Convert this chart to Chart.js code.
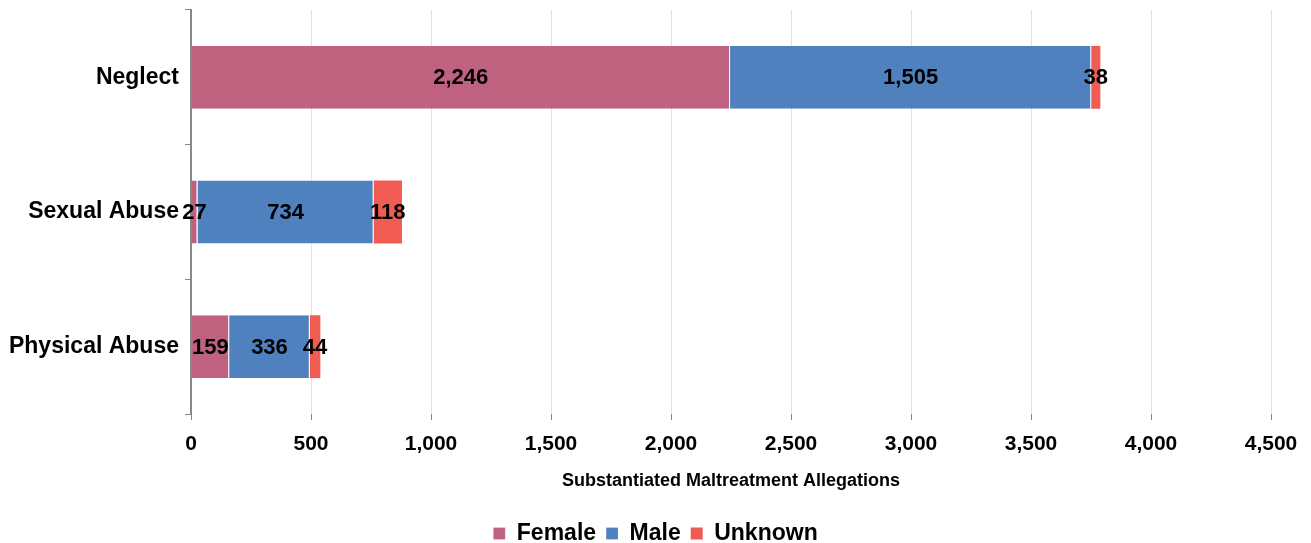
<!DOCTYPE html>
<html>
<head>
<meta charset="utf-8">
<script src="https://cdn.jsdelivr.net/npm/chart.js@4/dist/chart.umd.min.js"></script>
<style>
  html, body { margin: 0; padding: 0; background: #ffffff; }
  #wrap { width: 1311px; height: 543px; }
</style>
</head>
<body>
<div id="wrap"><canvas id="c" width="1311" height="543"></canvas></div>
<script>
const categories = ["Neglect", "Sexual Abuse", "Physical Abuse"];
const femaleValues = [2246, 27, 159];
const maleValues = [1505, 734, 336];
const unknownValues = [38, 118, 44];
const xTickValues = [0, 500, 1000, 1500, 2000, 2500, 3000, 3500, 4000, 4500];
const xAxisTitle = "Substantiated Maltreatment Allegations";

const FONT = "'Liberation Sans', Arial, sans-serif";

const valueLabels = {
  id: 'valueLabels',
  afterDatasetsDraw(chart) {
    const ctx = chart.ctx;
    ctx.save();
    ctx.font = "bold 22px " + FONT;
    ctx.fillStyle = "#000000";
    ctx.textAlign = "center";
    ctx.textBaseline = "middle";
    chart.data.datasets.forEach((ds, i) => {
      const meta = chart.getDatasetMeta(i);
      meta.data.forEach((bar, j) => {
        const v = ds.data[j];
        const cx = (bar.x + bar.base) / 2;
        ctx.fillText(v.toLocaleString('en-US'), cx, bar.y + 1);
      });
    });
    ctx.restore();
  }
};

new Chart(document.getElementById('c'), {
  type: 'bar',
  data: {
    labels: categories,
    datasets: [
      { label: 'Female', data: femaleValues, backgroundColor: '#BF627F', borderColor: '#ffffff', borderWidth: {left:0, right:1, top:0, bottom:0}, borderSkipped: false },
      { label: 'Male', data: maleValues, backgroundColor: '#4E81BE', borderColor: '#ffffff', borderWidth: {left:0, right:1, top:0, bottom:0}, borderSkipped: false },
      { label: 'Unknown', data: unknownValues, backgroundColor: '#F15C52', borderColor: '#ffffff', borderWidth: 0 }
    ]
  },
  options: {
    indexAxis: 'y',
    responsive: false,
    animation: false,
    devicePixelRatio: 1,
    layout: { padding: { left: 0, right: 0, top: 10, bottom: -12 } },
    datasets: { bar: { categoryPercentage: 1.0, barPercentage: 0.467 } },
    scales: {
      x: {
        stacked: true,
        min: 0, max: 4500,
        afterBuildTicks(scale) { scale.ticks = xTickValues.map(v => ({ value: v })); },
        afterFit(scale) { scale.height = 98; scale.paddingLeft = 0; scale.paddingRight = 40; },
        border: { display: false },
        grid: { color: '#e3e3e3', lineWidth: 1, drawTicks: true, tickLength: 6, tickColor: '#888888' },
        ticks: {
          color: '#000000',
          font: { family: FONT, size: 21, weight: 'bold' },
          padding: 12,
          maxRotation: 0,
          callback: (v) => Number(v).toLocaleString('en-US')
        },
        title: {
          display: true, text: xAxisTitle, color: '#000000',
          font: { family: FONT, size: 18, weight: 'bold' },
          padding: { top: 6, bottom: 20 }
        }
      },
      y: {
        stacked: true,
        afterFit(scale) { scale.width = 191; scale.paddingTop = 0; scale.paddingBottom = 0; },
        border: { display: true, color: '#888888', width: 2 },
        grid: { offset: true, drawOnChartArea: false, drawTicks: true, tickLength: 6, tickColor: '#888888' },
        ticks: {
          color: '#000000',
          font: { family: FONT, size: 23, weight: 'bold' },
          padding: 6
        }
      }
    },
    plugins: {
      legend: {
        position: 'bottom',
        labels: {
          color: '#000000',
          font: { family: FONT, size: 23, weight: 'bold' },
          boxWidth: 12, boxHeight: 12, padding: 10
        }
      },
      tooltip: { enabled: false }
    }
  },
  plugins: [valueLabels]
});
</script>
</body>
</html>
